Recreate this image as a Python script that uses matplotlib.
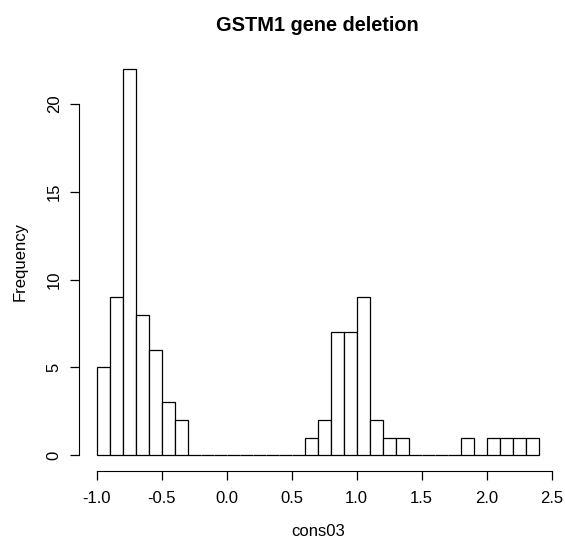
import numpy as np
import matplotlib
matplotlib.use("Agg")
from matplotlib import pyplot as plt

plt.rcParams['font.family'] = ['Liberation Sans', 'DejaVu Sans']

# histogram of cons03, bins of width 0.1 from -1.0 to 2.4
bin_edges = np.round(np.arange(-1.0, 2.41, 0.1), 2)
counts = [5, 9, 22, 8, 6, 3, 2, 0, 0, 0, 0, 0, 0, 0, 0, 0, 1, 2, 7, 7,
          9, 2, 1, 1, 0, 0, 0, 0, 1, 0, 1, 1, 1, 1]
x_ticks = [-1.0, -0.5, 0.0, 0.5, 1.0, 1.5, 2.0, 2.5]
y_ticks = [0, 5, 10, 15, 20]

W, H = 565, 544
fig = plt.figure(figsize=(W / 100, H / 100), dpi=100)
# plot region in pixels: left 79, right 556, top 53.5, bottom 470.5
ax = fig.add_axes([79 / W, 1 - 470.5 / H, (556.4 - 79) / W, (470.5 - 53.5) / H])

ax.bar(bin_edges[:-1], counts, width=np.diff(bin_edges), align='edge',
       facecolor='white', edgecolor='black', linewidth=0.9)

# R pads the data range by 4% on each side
ax.set_xlim(-1.136, 2.536)
ax.set_ylim(-0.88, 22.88)

for s in ['top', 'right']:
    ax.spines[s].set_visible(False)
ax.spines['bottom'].set_bounds(-1.0, 2.5)
ax.spines['left'].set_bounds(0, 20)
ax.set_xticks(x_ticks)
ax.set_xticklabels(['%.1f' % v for v in x_ticks])
ax.set_yticks(y_ticks)
ax.set_yticklabels([str(v) for v in y_ticks], rotation=90, va='center')
ax.tick_params(length=6.5, width=0.9, labelsize=12)
ax.tick_params(axis='x', pad=8)
ax.tick_params(axis='y', pad=6)

ax.set_xlabel('cons03', fontsize=12, labelpad=13)
ax.set_ylabel('Frequency', fontsize=12, labelpad=14)
ax.set_title('GSTM1 gene deletion', fontsize=14.4, fontweight='bold', pad=16)

fig.savefig('out.png', dpi=100)
